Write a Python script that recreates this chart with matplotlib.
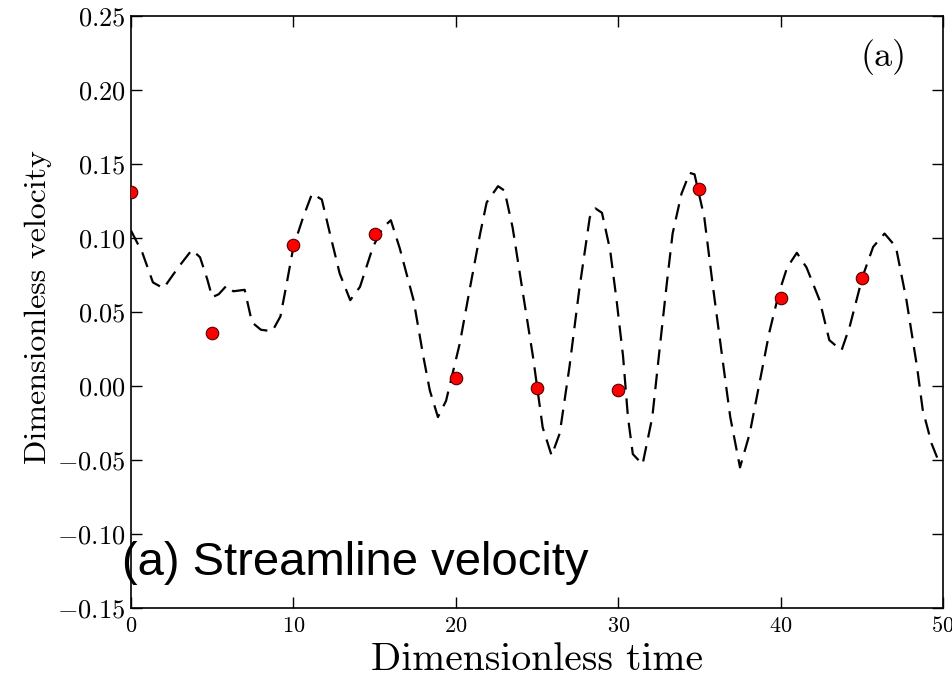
import numpy as np
import matplotlib
matplotlib.use("Agg")
import matplotlib.pyplot as plt

# ── DATA ─────────────────────────────────────────────────────────
# dashed curve
line_t = [0.0, 0.7, 1.35, 2.0, 2.9, 3.75, 4.25, 4.7, 5.0, 5.4, 5.9, 6.3, 7.0,
          7.45, 8.0, 8.7, 9.2, 9.6, 10.0, 10.6, 11.15, 11.75, 12.25, 12.85,
          13.5, 14.1, 14.9, 15.5, 16.0, 16.55, 17.4, 18.0, 18.4, 18.9, 19.4,
          20.25, 20.85, 21.5, 21.9, 22.6, 23.0, 23.5, 24.1, 24.75, 25.35,
          25.9, 26.4, 27.0, 27.6, 28.25, 28.6, 29.0, 29.5, 29.9, 30.3, 30.6,
          30.9, 31.5, 32.1, 32.55, 33.0, 33.35, 33.9, 34.4, 34.7, 35.3, 35.8,
          36.4, 36.9, 37.5, 38.1, 38.7, 39.3, 39.9, 40.4, 41.0, 41.6, 42.4,
          43.0, 43.75, 44.25, 45.05, 45.7, 46.4, 47.1, 47.75, 48.4, 48.75,
          49.3, 49.7]
line_v = [0.105, 0.090, 0.070, 0.066, 0.080, 0.092, 0.087, 0.072, 0.060, 0.062,
          0.068, 0.064, 0.065, 0.043, 0.038, 0.037, 0.047, 0.070, 0.094, 0.114,
          0.130, 0.126, 0.103, 0.076, 0.058, 0.067, 0.094, 0.107, 0.112, 0.093,
          0.058, 0.020, -0.003, -0.021, -0.010, 0.029, 0.065, 0.103, 0.124,
          0.135, 0.132, 0.107, 0.065, 0.020, -0.028, -0.047, -0.032, 0.013,
          0.065, 0.114, 0.120, 0.117, 0.092, 0.058, 0.020, -0.021, -0.046,
          -0.053, -0.021, 0.025, 0.070, 0.103, 0.130, 0.144, 0.143, 0.114,
          0.070, 0.020, -0.021, -0.055, -0.032, 0.002, 0.036, 0.063, 0.080,
          0.090, 0.080, 0.058, 0.031, 0.024, 0.040, 0.074, 0.094, 0.103, 0.094,
          0.058, 0.013, -0.016, -0.039, -0.050]

# red sample points
dot_t = [0, 5, 10, 15, 20, 25, 30, 35, 40, 45]
dot_v = [0.131, 0.036, 0.095, 0.103, 0.0054, -0.0014, -0.0027, 0.133, 0.0595, 0.073]

x_ticks = [0, 10, 20, 30, 40, 50]
y_ticks = [-0.15, -0.10, -0.05, 0.00, 0.05, 0.10, 0.15, 0.20, 0.25]

# ── STYLE ────────────────────────────────────────────────────────
plt.rcParams["font.family"] = "serif"
plt.rcParams["font.serif"] = ["cmr10", "DejaVu Serif"]
plt.rcParams["mathtext.fontset"] = "cm"
plt.rcParams["axes.formatter.use_mathtext"] = True

fig = plt.figure(figsize=(9.53, 6.79), dpi=100)
ax = fig.add_axes([131 / 953, 1 - 608 / 679, 812 / 953, 592 / 679])

ax.plot(line_t, line_v, color="black", linewidth=1.6, dashes=(7, 4))
ax.plot(dot_t, dot_v, "o", color="red", markeredgecolor="#550000",
        markeredgewidth=0.8, markersize=9, zorder=5)

ax.set_xlim(0, 50)
ax.set_ylim(-0.15, 0.25)
ax.set_xticks(x_ticks)
ax.set_yticks(y_ticks)
ax.set_xticklabels([f"${t}$" for t in x_ticks])
ax.set_yticklabels([f"${v:.2f}$" for v in y_ticks])
ax.tick_params(direction="in", top=True, right=True, length=8, width=1)
ax.tick_params(axis="y", pad=4, labelsize=19)
ax.tick_params(axis="x", pad=6, labelsize=16)
for s in ax.spines.values():
    s.set_linewidth(1.2)

ax.set_xlabel("Dimensionless time", fontsize=28.5)
ax.xaxis.set_label_coords(0.5, -0.058)
ax.set_ylabel("Dimensionless velocity", fontsize=23)
ax.yaxis.set_label_coords(-0.097, 0.508)

ax.text(0.955, 0.93, "(a)", transform=ax.transAxes, fontsize=26,
        ha="right", va="center")

fig.text(122 / 953, 1 - 575 / 679, "(a) Streamline velocity",
         fontsize=34, family="Liberation Sans", ha="left", va="baseline")

plt.savefig("out.png", dpi=100)
